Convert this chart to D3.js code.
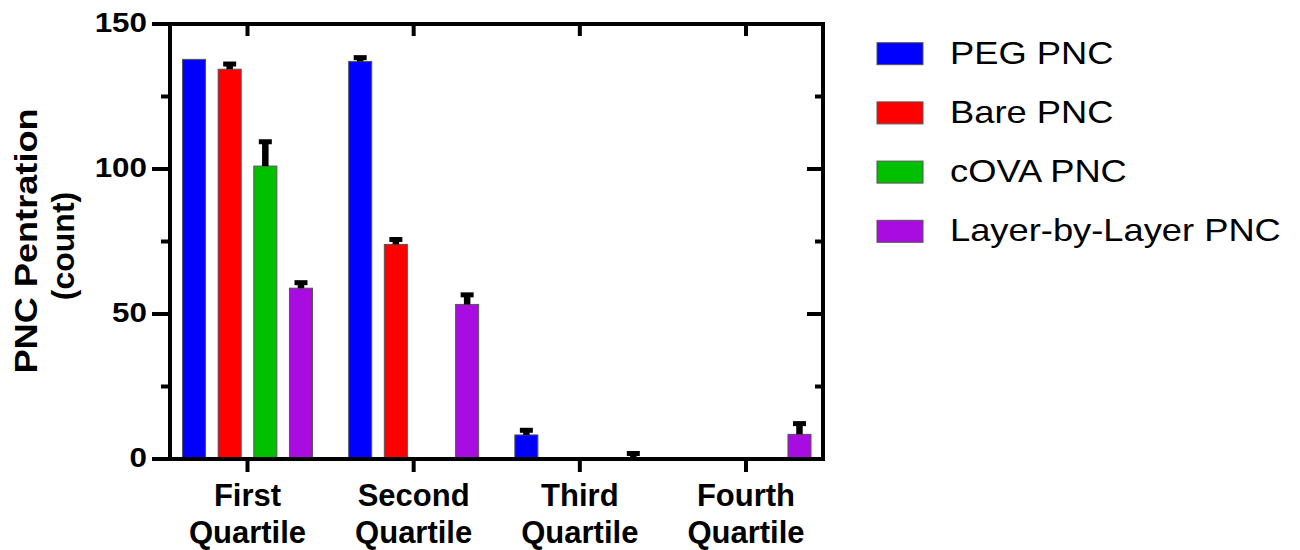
<!DOCTYPE html>
<html><head><meta charset="utf-8">
<script src="https://cdn.jsdelivr.net/npm/d3@7"></script>
<style>
body{margin:0;background:#fff}
svg{display:block}
text{font-family:"Liberation Sans",Arial,Helvetica,sans-serif;fill:#000}
</style>
</head><body>
<svg id="chart" width="1300" height="550"></svg>
<script>
// ---- data ----
const categories = ["First Quartile", "Second Quartile", "Third Quartile", "Fourth Quartile"];
const seriesNames = ["PEG PNC", "Bare PNC", "cOVA PNC", "Layer-by-Layer PNC"];
const seriesColors = ["#0000ff", "#ff0000", "#00c000", "#a80ce0"];
const pegValues  = [137.8, 137.1, 8.3, 0];
const bareValues = [134.4, 74.0, 0, 0];
const covaValues = [101.0, 0, 0, 0];
const lblValues  = [58.9, 53.3, 0.4, 8.5];
const pegErr  = [0, 1.3, 1.6, 0];
const bareErr = [1.8, 1.7, 0, 0];
const covaErr = [8.4, 0, 0, 0];
const lblErr  = [1.9, 3.3, 1.5, 3.7];
const yMajorTicks = [0, 50, 100, 150];
const yMinorTicks = [25, 75, 125];
const yTitle = ["PNC Pentration", "(count)"];

const values = [pegValues, bareValues, covaValues, lblValues];
const errors = [pegErr, bareErr, covaErr, lblErr];

// ---- layout ----
const svg = d3.select("#chart");
const pLeft = 170, pRight = 823, pTop = 24, pBottom = 459;

const y = d3.scaleLinear().domain([0, 150]).range([pBottom, pTop]);
const x = d3.scalePoint().domain(categories).range([247.5, 746]);
const xs = d3.scaleBand().domain(seriesNames).range([-71.3, 71.3])
  .paddingInner(0.354).paddingOuter(0.177);

function stretch(sel, k) {
  sel.each(function () {
    const len = this.getComputedTextLength();
    d3.select(this).attr("textLength", len * k).attr("lengthAdjust", "spacingAndGlyphs");
  });
}

// bars
const data = [];
categories.forEach((c, i) => {
  seriesNames.forEach((s, j) => {
    data.push({ cat: c, ser: s, color: seriesColors[j], v: values[j][i], e: errors[j][i] });
  });
});

const gBars = svg.append("g");
gBars.selectAll("rect").data(data.filter(d => d.v > 0)).join("rect")
  .attr("x", d => x(d.cat) + xs(d.ser))
  .attr("y", d => y(d.v))
  .attr("width", xs.bandwidth())
  .attr("height", d => y(0) - y(d.v))
  .attr("fill", d => d.color)
  .attr("stroke", "#555")
  .attr("stroke-width", 1);

// error bars (upper only)
const gErr = svg.append("g");
const errData = data.filter(d => d.e > 0);
const cx = d => x(d.cat) + xs(d.ser) + xs.bandwidth() / 2;
gErr.selectAll("line.stem").data(errData).join("line").attr("class", "stem")
  .attr("x1", cx).attr("x2", cx)
  .attr("y1", d => y(d.v))
  .attr("y2", d => y(d.v + d.e))
  .attr("stroke", "#000").attr("stroke-width", 6.5);
gErr.selectAll("line.cap").data(errData).join("line").attr("class", "cap")
  .attr("x1", d => cx(d) - 6.5)
  .attr("x2", d => cx(d) + 6.5)
  .attr("y1", d => y(d.v + d.e))
  .attr("y2", d => y(d.v + d.e))
  .attr("stroke", "#000").attr("stroke-width", 5);

// frame
const frame = svg.append("g").attr("stroke", "#000").attr("stroke-width", 4).attr("fill", "none");
frame.append("rect").attr("x", pLeft).attr("y", pTop).attr("width", pRight - pLeft).attr("height", pBottom - pTop);

// left axis ticks (outward)
frame.selectAll("line.lmaj").data(yMajorTicks).join("line").attr("class", "lmaj")
  .attr("x1", pLeft - 18).attr("x2", pLeft).attr("y1", d => y(d)).attr("y2", d => y(d));
frame.selectAll("line.lmin").data(yMinorTicks).join("line").attr("class", "lmin")
  .attr("x1", pLeft - 9).attr("x2", pLeft).attr("y1", d => y(d)).attr("y2", d => y(d));
// right ticks (inward)
frame.selectAll("line.rmaj").data(yMajorTicks.filter(d => d > 0 && d < 150)).join("line").attr("class", "rmaj")
  .attr("x1", pRight - 16).attr("x2", pRight).attr("y1", d => y(d)).attr("y2", d => y(d));
frame.selectAll("line.rmin").data(yMinorTicks).join("line").attr("class", "rmin")
  .attr("x1", pRight - 8).attr("x2", pRight).attr("y1", d => y(d)).attr("y2", d => y(d));
// bottom ticks (outward)
frame.selectAll("line.bt").data(categories).join("line").attr("class", "bt")
  .attr("x1", d => x(d)).attr("x2", d => x(d)).attr("y1", pBottom).attr("y2", pBottom + 13);
// top ticks (inward)
frame.selectAll("line.tt").data(categories).join("line").attr("class", "tt")
  .attr("x1", d => x(d)).attr("x2", d => x(d)).attr("y1", pTop).attr("y2", pTop + 12);

// y tick labels
svg.append("g").selectAll("text").data(yMajorTicks).join("text")
  .attr("x", 147).attr("y", d => y(d)).attr("dy", "0.3em")
  .attr("text-anchor", "end").attr("font-weight", "bold").attr("font-size", 28)
  .text(d => d)
  .call(stretch, 1.12);

// x labels
const xl = svg.append("g").selectAll("text").data(categories).join("text")
  .attr("text-anchor", "middle").attr("font-weight", "bold").attr("font-size", 31);
xl.append("tspan").attr("x", d => x(d)).attr("y", 506).text(d => d.split(" ")[0]);
xl.append("tspan").attr("x", d => x(d)).attr("y", 542.5).text(d => d.split(" ")[1]);

// y title
const yt = svg.append("g").attr("transform", "translate(0,241) rotate(-90)");
yt.append("text").attr("x", 0).attr("y", 37).attr("text-anchor", "middle")
  .attr("font-weight", "bold").attr("font-size", 32).text(yTitle[0]).call(stretch, 1.13);
yt.append("text").attr("x", -5).attr("y", 74).attr("text-anchor", "middle")
  .attr("font-weight", "bold").attr("font-size", 32).text(yTitle[1]);

// legend
const lg = svg.append("g").selectAll("g").data(seriesNames).join("g")
  .attr("transform", (d, i) => `translate(877,${42.7 + i * 59.2})`);
lg.append("rect").attr("width", 46).attr("height", 22)
  .attr("fill", (d, i) => seriesColors[i]).attr("stroke", "#555").attr("stroke-width", 1);
lg.append("text").attr("x", 73).attr("y", 21).attr("font-size", 30.5).text(d => d).call(stretch, 1.19);
</script>
</body></html>
